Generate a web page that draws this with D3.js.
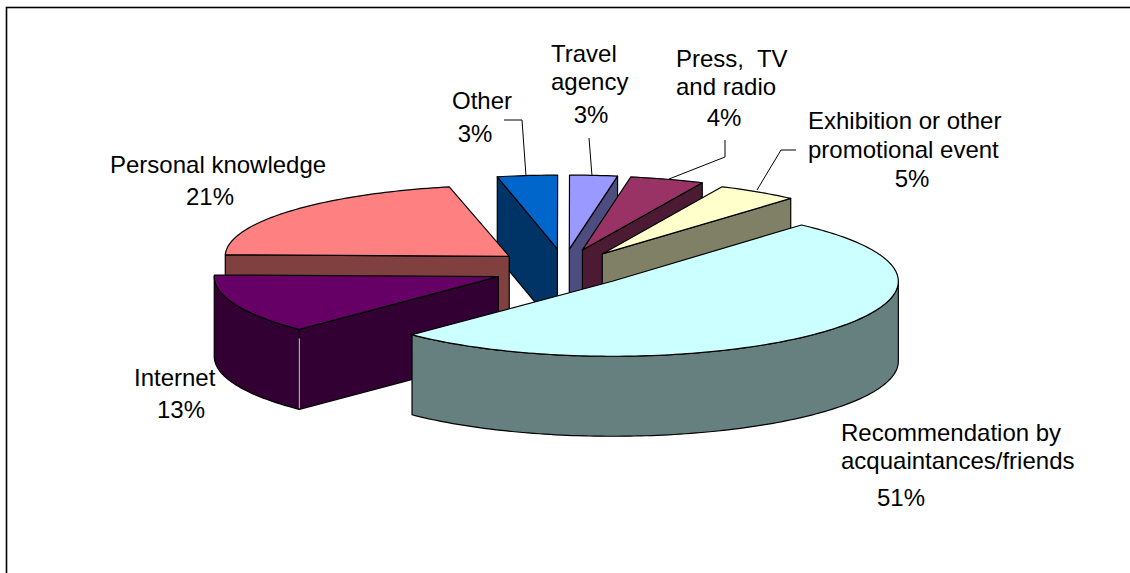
<!DOCTYPE html>
<html>
<head>
<meta charset="utf-8">
<script src="https://cdn.jsdelivr.net/npm/d3@7"></script>
<style>
  html, body { margin: 0; padding: 0; background: #fff; overflow: hidden; }
  svg { display: block; }
  text { font-family: "Liberation Sans", Arial, sans-serif; font-size: 24px; fill: #000; }
</style>
</head>
<body>
<svg width="1130" height="573"></svg>
<script>
const categories = ['Recommendation by acquaintances/friends', 'Internet', 'Personal knowledge', 'Other',
    'Travel agency', 'Press, TV and radio', 'Exhibition or other promotional event'];
const shares = [50.9, 13, 21.3, 3.4, 2.7, 4.2, 4.6];
const topColors = ['#ccffff', '#660066', '#ff8080', '#0066cc', '#9999ff', '#993366', '#ffffcc'];
const wallColors = ['#668080', '#330033', '#804040', '#003366', '#4d4d80', '#4d1a33', '#808066'];

// label placement, same order as categories: text lines, left x, baselines, centre x of the percent
const labelLines = [
    ['Recommendation by', 'acquaintances/friends'], ['Internet'], ['Personal knowledge'], ['Other'],
    ['Travel', 'agency'], ['Press,  TV', 'and radio'], ['Exhibition or other', 'promotional event']
];
const labelX = [841, 134, 110, 452, 551, 676, 808];
const labelY = [441, 386, 173, 109, 62, 67, 129];
const lineStep = [28, 28, 28, 28, 28, 28, 29];
const percentX = [901, 181, 210, 475, 591, 724, 912];
const percentY = [506, 418, 205, 142, 123, 126, 187];
const leaders = [null, null, null,
    [[504, 120], [522, 120], [526, 176]],
    [[589, 138], [592, 176]],
    [[725, 140], [725, 157], [669, 179]],
    [[796, 150], [781, 150], [757, 190]]];

var svg = d3.select('svg');

// size of the pie on screen, excel's perspective makes it a bit different per slice
const cx = 564, cy = 269;
const sliceRx = [286, 284, 284, 285, 285, 285, 285];
const sliceRy = [75, 74, 71, 74, 74, 74, 74];
const explodeX = [66, 71, 71, 62, 62, 62, 70];
const explodeY = [18, 20, 20, 20, 20, 20, 18];
const depth = 80;
const startAngle = 41.4 * Math.PI / 180;

svg.append('rect')
    .attr('x', 6.5).attr('y', 7.5)
    .attr('width', 1200).attr('height', 700)
    .attr('fill', '#fff').attr('stroke', '#000').attr('stroke-width', 1.6);

const pie = d3.pie().sort(null)
    .startAngle(startAngle)
    .endAngle(startAngle + 2 * Math.PI);

const slices = pie(shares).map(function(d, i) {
    let mid = (d.startAngle + d.endAngle) / 2;
    return {
        i: i,
        a0: d.startAngle,
        a1: d.endAngle,
        ox: cx + Math.sin(mid) * explodeX[i],
        oy: cy - Math.cos(mid) * explodeY[i]
    };
});

function rim(s, a, drop) {
    return [s.ox + Math.sin(a) * sliceRx[s.i], s.oy - Math.cos(a) * sliceRy[s.i] + (drop || 0)];
}

function arcPoints(s, a0, a1, drop) {
    let steps = Math.max(2, Math.ceil(Math.abs(a1 - a0) / 0.02));
    return d3.range(steps + 1).map(function(k) {
        return rim(s, a0 + (a1 - a0) * k / steps, drop);
    });
}

const line = d3.line();
const poly = function(pts) { return line(pts) + 'Z'; };

// painters order, far slices first
slices.slice().sort(function(a, b) { return a.oy - b.oy; }).forEach(function(s) {
    let g = svg.append('g')
        .attr('stroke', '#000')
        .attr('stroke-width', 1.2)
        .attr('stroke-linejoin', 'round');
    let wall = wallColors[s.i];
    let apex = [s.ox, s.oy];
    let apexLow = [s.ox, s.oy + depth];

    // cut faces that look towards the viewer
    if (Math.sin(s.a0) < -1e-3) {
        g.append('path').attr('fill', wall)
            .attr('d', poly([apex, rim(s, s.a0), rim(s, s.a0, depth), apexLow]));
    }
    if (Math.sin(s.a1) > 1e-3) {
        g.append('path').attr('fill', wall)
            .attr('d', poly([apex, rim(s, s.a1), rim(s, s.a1, depth), apexLow]));
    }
    // outer wall, only the part between the left and right extreme at the front
    let w0 = Math.max(s.a0, Math.PI / 2), w1 = Math.min(s.a1, 3 * Math.PI / 2);
    if (w1 > w0) {
        g.append('path').attr('fill', wall)
            .attr('d', poly(arcPoints(s, w0, w1).concat(arcPoints(s, w1, w0, depth))));
    }
    // top
    g.append('path').attr('fill', topColors[s.i])
        .attr('d', poly([apex].concat(arcPoints(s, s.a0, s.a1))));
    // the light seam on the internet slice where its two walls meet
    if (s.i == 1) {
        g.append('path').attr('stroke', '#ccc').attr('stroke-width', 1)
            .attr('d', line([rim(s, s.a0, 9), rim(s, s.a0, depth - 1)]));
    }
});

// leader lines
leaders.forEach(function(pts) {
    if (!pts) return;
    svg.append('path').attr('d', line(pts))
        .attr('fill', 'none').attr('stroke', '#000').attr('stroke-width', 1);
});

// labels
categories.forEach(function(name, i) {
    labelLines[i].forEach(function(txt, k) {
        svg.append('text')
            .attr('x', labelX[i])
            .attr('y', labelY[i] + k * lineStep[i])
            .style('white-space', 'pre')
            .text(txt);
    });
    svg.append('text')
        .attr('x', percentX[i])
        .attr('y', percentY[i])
        .attr('text-anchor', 'middle')
        .text(Math.round(shares[i]) + '%');
});
</script>
</body>
</html>
